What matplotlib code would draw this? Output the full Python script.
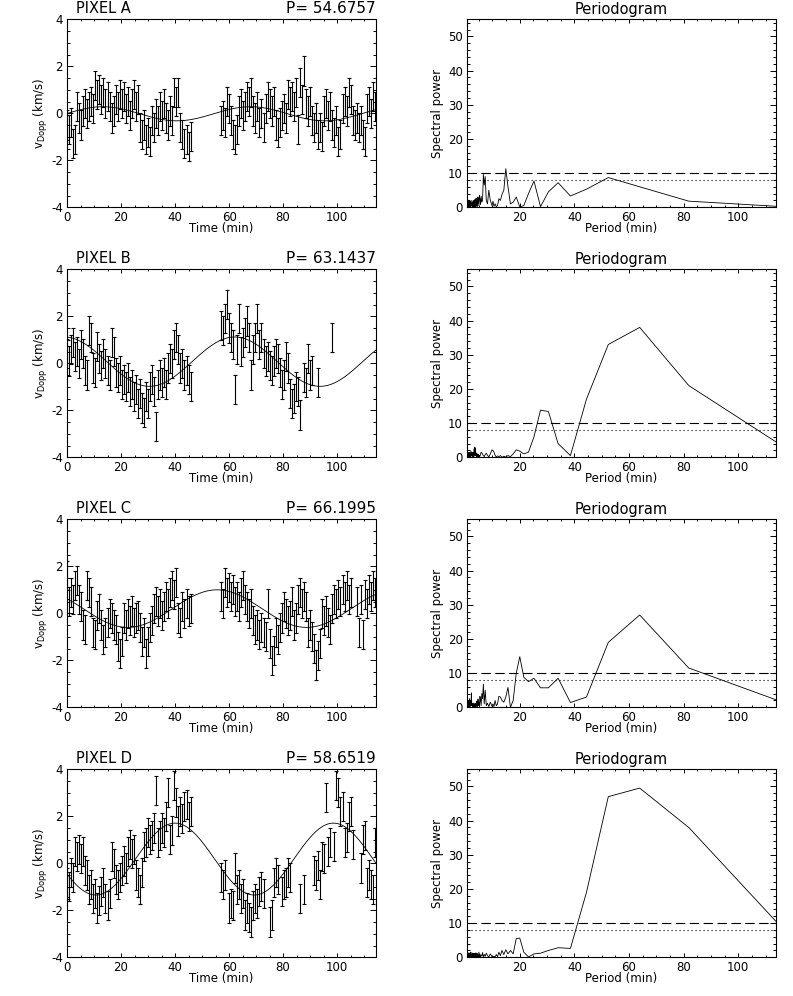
import numpy as np
import matplotlib
matplotlib.use("Agg")
import matplotlib.pyplot as plt
from matplotlib.ticker import MultipleLocator

# ---- time series (km/s), sampled every DT min; two segments per pixel ----
DT = 0.75
T2_START = 57.0
ERR = 0.62
nan = np.nan

a_seg1 = [-0.5, -0.7, -0.4, -1.3, -1.1, 0.3, -0.2, -0.5, 0.1, 0.4,
          0.0, 0.3, 0.5, 0.2, 1.2, 0.8, 1.0, 0.6, 0.9, 0.4,
          0.7, 0.3, -0.2, 0.1, 0.6, 0.3, 0.8, 0.4, 0.7, 0.2,
          0.5, -0.1, 0.4, 0.8, 0.3, 0.6, -0.6, -0.9, -0.5, -1.1,
          -0.8, -1.2, -0.3, -0.6, 0.0, -0.3, 0.3, -0.1, 0.4, -0.2,
          -0.5, 0.1, -0.3, 0.9, 0.5, 0.9, -0.6, -0.9, -1.3, -1.1,
          -1.4, -1.0]
a_seg2 = [-0.3, -0.1, -0.4, 0.5, 0.2, -0.3, -0.9, -1.1, -0.7, 0.1,
          0.4, -0.1, 0.3, 0.7, 0.5, 0.9, 0.1, -0.2, 0.3, -0.4,
          0.0, -0.6, 0.2, 0.7, 0.4, 0.1, 0.5, -0.5, -0.8, -0.4,
          -0.1, 0.2, -0.2, 0.8, 0.5, 0.7, 0.3, 0.9, -0.7, 1.3,
          0.6, 1.8, 0.4, 0.1, 0.5, -0.3, -0.6, -0.2, -0.9, -0.6,
          -1.0, 0.1, 0.4, -0.1, 0.3, -0.5, -0.8, -0.3, -1.2, -0.9,
          0.2, 0.5, 0.1, 0.9, 0.6, -0.3, -0.5, -0.2, -0.6, -0.3,
          -0.9, -1.2, 0.2, 0.5, 0.0, 0.7, 0.3]

b_seg1 = [0.4, 0.1, 0.6, 0.9, 0.3, 0.5, 0.0, 0.8, 0.4, -0.3,
          -0.5, 1.4, 1.1, -0.2, -0.4, 0.7, 0.2, -0.1, 0.4, 0.0,
          -0.3, -0.5, 0.9, 0.5, -0.4, -0.6, -0.3, -0.9, -0.7, -1.0,
          -0.6, -1.2, -0.9, -1.4, -1.1, -1.7, -1.3, -1.9, -2.1, -1.4,
          -1.7, -1.0, -0.7, -1.2, -2.7, -0.9, -0.5, -0.8, -0.4, -0.9,
          -0.2, 0.2, 0.0, 0.8, 1.1, 0.6, -0.2, 0.0, -0.5, -0.3,
          -0.7, -1.0]
b_seg2 = [1.6, 1.4, 1.9, 2.5, 1.5, 1.1, 0.8, -1.1, 0.6, 1.9,
          0.5, 0.9, 1.3, 1.8, 1.1, -0.5, 0.6, 1.1, 1.9, 0.8,
          1.1, 0.4, 0.1, 0.3, -0.1, -0.3, 0.1, 0.4, 0.2, -0.4,
          -0.9, -0.5, 0.3, -0.2, -1.3, -1.7, -1.5, -1.0, -1.2, -2.2,
          nan, -0.6, -0.8, 0.2, -0.5, -0.3, nan, nan, -0.8, nan,
          nan, nan, nan, nan, nan, 1.1]

c_seg1 = [1.6, 0.5, 0.9, 0.6, 1.2, 1.4, 0.6, 0.3, -0.5, -0.7,
          1.2, 0.9, 0.5, -0.8, -0.9, -0.1, 0.2, -0.5, -1.1, -0.8,
          -0.4, 0.0, -0.2, -0.5, -0.7, -1.4, -1.7, -1.2, -0.2, -0.5,
          0.0, -0.3, 0.1, -0.4, -0.2, -0.1, -0.6, -1.2, -0.8, -1.7,
          -1.2, -0.6, -0.3, 0.2, 0.5, 0.1, 0.4, -0.1, 0.3, 0.7,
          0.4, 0.9, 1.2, 0.8, 1.3, -0.2, -0.4, 0.3, 0.0, 0.4,
          0.1, 0.2]
c_seg2 = [0.7, 0.4, 1.3, 0.9, 1.1, 0.7, 1.0, 0.5, 0.7, 0.3,
          0.9, 1.2, 0.6, 0.3, 0.0, 0.4, -0.3, -0.7, -0.5, -0.9,
          -0.6, -0.8, -1.0, 0.4, -1.3, -2.0, -1.6, -0.8, -1.1, -0.6,
          -0.2, 0.3, 0.0, -0.3, -0.1, 0.5, -0.5, -0.2, 0.6, 0.9,
          0.4, 0.7, 0.3, -0.8, -0.5, -1.0, -1.5, -2.2, -1.8, -1.3,
          0.0, -0.3, 0.1, -0.4, -0.7, 0.2, 0.6, 0.4, 0.8, 0.5,
          1.0, 0.7, 1.2, 0.6, 0.9, nan, nan, 0.5, -0.8, 0.6,
          -0.9, 0.8, 0.4, 1.0, 0.7, 1.2, 0.9]

d_seg1 = [-0.8, -1.0, -0.4, -0.6, 0.5, 0.3, 0.6, 0.2, 0.5, -0.3,
          -0.5, -1.1, -0.9, -1.5, -1.3, -1.9, -1.6, -1.2, -0.8, -1.5,
          -1.8, -1.3, 0.3, 0.0, -0.7, -0.9, -0.6, -0.3, 0.1, -0.2,
          0.5, 0.8, 0.4, 0.6, -0.5, -0.8, -1.1, -0.4, 0.7, 0.9,
          1.3, 1.0, 1.2, 1.5, 3.1, 0.9, 1.2, 1.5, 1.3, 2.0,
          3.0, 1.0, 1.4, 3.3, 2.6, 1.8, 2.2, 1.9, 2.4, 2.5,
          2.0, 2.2]
d_seg2 = [-0.6, -0.9, -0.5, nan, -1.9, -1.7, -1.8, -0.2, -1.1, -0.9,
          -1.5, -1.3, -2.2, -1.9, -2.3, -2.5, -1.8, -1.5, -1.7, -1.2,
          -1.0, -1.3, nan, nan, -2.5, -2.2, -0.8, -0.4, -0.7, nan,
          -1.2, -0.9, -0.8, -0.4, -0.6, nan, nan, nan, nan, -1.5,
          nan, -1.1, nan, nan, nan, nan, -0.3, -0.5, -0.1, -0.9,
          0.3, 0.2, 2.8, 0.5, 0.9, nan, 0.7, 3.3, 3.0, 2.2,
          2.4, 0.9, 1.1, 2.0, 2.2, 0.8, nan, nan, nan, -0.2,
          1.0, 1.2, -0.8, -0.5, -0.9, -1.1, 0.9]

# ---- sine fits: period, amplitude, time of maximum, offset ----
pixels = ["PIXEL A", "PIXEL B", "PIXEL C", "PIXEL D"]
fit_period = [54.6757, 63.1437, 66.1995, 58.6519]
fit_amp = [0.30, 1.05, 0.80, 1.53]
fit_tmax = [13.3, 62.1, 55.6, 40.0]
fit_off = [-0.02, 0.07, 0.20, 0.18]

# ---- periodograms on a uniform frequency grid f = F0 + k*DF ----
F0 = 1 / 113.8
DF = 0.00343
# k = 0..26, then every 2nd k from 27, then every 8th k from 100
a_pow = [0.3, 1.8, 6.0, 8.7, 5.3, 3.3, 7.2, 4.5, 0.2, 7.7,
         4.0, 0.5, 0.1, 3.0, 1.5, 1.0, 6.0, 11.3, 5.0, 3.8,
         2.0, 2.5, 0.5, 0.2, 1.0, 0.3, 1.8]
a_pow_lo = [0.5, 2.0, 5.0, 1.0, 2.0, 9.0, 6.5, 9.6, 2.0, 1.5,
            3.2, 0.8, 2.5, 3.5, 0.5, 2.8, 1.2, 3.0, 0.3, 2.2,
            1.0, 2.7, 0.2, 1.8, 0.6, 2.4, 0.1, 1.5, 0.4, 2.0,
            0.2, 1.2, 0.5, 1.9, 0.1, 1.4, 0.3]
a_pow_vlo = [1.6, 0.2, 2.0, 0.4, 1.2, 0.1, 1.8, 0.5, 1.0, 0.2,
             1.7, 0.3, 1.3, 0.1, 2.1, 0.4, 0.9, 0.2, 1.5, 0.6,
             1.1, 0.1, 1.9, 0.3, 0.8, 0.2, 1.4, 0.5, 1.2, 0.1,
             1.6, 0.3, 0.7, 0.2, 1.3, 0.4, 1.0, 0.1, 1.5, 0.3]

b_pow = [4.5, 21.0, 38.0, 33.0, 17.0, 0.5, 4.0, 13.4, 13.8, 6.0,
         1.5, 1.0, 1.8, 2.2, 1.0, 0.2, 0.5, 0.1, 0.3, 0.0,
         0.5, 0.2, 0.4, 0.1, 0.6, 1.5, 2.0]
b_pow_lo = [2.2, 1.0, 0.1, 0.6, 1.2, 0.8, 0.2, 0.5, 0.9, 1.3,
            1.5, 0.9, 0.3, 0.6, 0.1, 0.8, 0.3, 1.0, 0.2, 0.7,
            0.1, 1.2, 0.4, 1.8, 0.6, 2.8, 0.9, 3.0, 1.2, 2.5,
            0.3, 1.5, 0.4, 1.1, 0.2, 1.3, 0.5]
b_pow_vlo = [1.4, 0.2, 1.0, 0.6, 1.7, 0.1, 0.9, 0.4, 1.2, 0.2,
             0.8, 0.5, 1.5, 0.1, 1.0, 0.3, 0.7, 0.2, 1.3, 0.4,
             0.9, 0.1, 1.1, 0.3, 0.6, 0.2, 1.2, 0.4, 0.8, 0.1,
             1.0, 0.3, 0.5, 0.2, 0.9, 0.1, 0.7, 0.3, 0.6, 0.2]

c_pow = [2.2, 11.5, 27.0, 19.0, 3.0, 1.4, 8.5, 5.7, 5.7, 8.5,
         7.5, 8.8, 14.8, 10.0, 2.0, 0.0, 5.8, 3.0, 1.5, 2.0,
         3.0, 3.2, 1.0, 0.5, 2.0, 0.2, 1.0]
c_pow_lo = [0.3, 1.5, 0.2, 1.2, 0.5, 5.0, 1.0, 6.8, 2.5, 4.0,
            0.5, 2.0, 3.2, 0.2, 1.5, 0.6, 2.4, 0.1, 1.0, 1.8,
            0.3, 1.2, 0.5, 0.9, 0.2, 1.1, 0.4, 0.7, 0.1, 1.0,
            0.3, 0.8, 0.2, 1.2, 0.4, 0.9, 0.1]
c_pow_vlo = [1.1, 0.3, 0.8, 4.2, 0.5, 2.0, 0.3, 1.4, 1.0, 2.5,
             0.2, 1.3, 0.6, 0.9, 0.1, 1.7, 0.4, 0.8, 0.2, 1.2,
             0.3, 0.6, 0.1, 1.0, 0.4, 0.7, 0.2, 1.1, 0.3, 0.5,
             0.1, 0.8, 0.2, 0.6, 0.3, 0.9, 0.1, 0.5, 0.2, 0.4]

d_pow = [10.5, 38.0, 49.5, 47.0, 19.0, 2.6, 2.8, 2.0, 1.2, 1.0,
         0.1, 1.5, 5.6, 5.5, 1.0, 2.0, 1.0, 2.2, 0.8, 2.0,
         0.5, 1.5, 0.2, 0.8, 0.0, 0.3, 0.1]
d_pow_lo = [0.2, 1.0, 0.1, 0.5, 1.2, 0.3, 0.8, 0.1, 1.4, 0.4,
            0.6, 0.1, 1.0, 0.3, 1.5, 0.2, 0.7, 0.1, 1.1, 0.4,
            0.9, 0.1, 1.3, 0.3, 0.6, 0.2, 1.0, 0.1, 0.8, 0.4,
            1.2, 0.2, 0.5, 0.1, 0.9, 0.3, 0.7]
d_pow_vlo = [1.1, 0.2, 1.4, 0.3, 0.8, 0.1, 1.5, 0.4, 0.9, 0.2,
             1.2, 0.1, 0.7, 0.3, 1.3, 0.2, 0.6, 0.1, 1.0, 0.4,
             0.8, 0.2, 1.1, 0.3, 0.5, 0.1, 0.9, 0.2, 1.2, 0.4,
             0.6, 0.1, 1.0, 0.3, 0.7, 0.2, 0.9, 0.1, 0.5, 0.3]

SIG_HI = 9.9
SIG_LO = 8.1

series = [(a_seg1, a_seg2), (b_seg1, b_seg2), (c_seg1, c_seg2), (d_seg1, d_seg2)]
powers = [(a_pow, a_pow_lo, a_pow_vlo), (b_pow, b_pow_lo, b_pow_vlo),
          (c_pow, c_pow_lo, c_pow_vlo), (d_pow, d_pow_lo, d_pow_vlo)]

plt.rcParams["font.family"] = ["DejaVu Sans"]
plt.rcParams["font.size"] = 8.5
plt.rcParams["axes.unicode_minus"] = False
plt.rcParams["axes.linewidth"] = 0.8
plt.rcParams["xtick.direction"] = "in"
plt.rcParams["ytick.direction"] = "in"
plt.rcParams["xtick.top"] = True
plt.rcParams["ytick.right"] = True

W, H = 793, 996
fig = plt.figure(figsize=(W / 100, H / 100), dpi=100)


def style(ax):
    ax.tick_params(axis="x", which="major", length=2.8, width=0.7, pad=2.5)
    ax.tick_params(axis="x", which="minor", length=1.4, width=0.7)
    ax.tick_params(axis="y", which="major", length=4.5, width=0.7, pad=3)
    ax.tick_params(axis="y", which="minor", length=2.3, width=0.7)


for i in range(4):
    bot = 1 - (207.3 + 250 * i) / H
    axl = fig.add_axes([67 / W, bot, 309 / W, 188 / H])
    axr = fig.add_axes([467 / W, bot, 309 / W, 188 / H])

    s1, s2 = series[i]
    t = np.r_[DT * np.arange(len(s1)), T2_START + DT * np.arange(len(s2))]
    v = np.r_[s1, s2]
    ok = ~np.isnan(v)
    axl.errorbar(t[ok], v[ok], yerr=ERR, fmt="none", ecolor="k",
                 elinewidth=0.8, capsize=1.6, capthick=0.8)
    tf = np.linspace(0, 114.4, 500)
    yf = fit_off[i] + fit_amp[i] * np.cos(2 * np.pi * (tf - fit_tmax[i]) / fit_period[i])
    axl.plot(tf, yf, color="k", lw=0.6)
    axl.set_xlim(0, 114.4)
    axl.set_ylim(-4, 4)
    axl.xaxis.set_major_locator(MultipleLocator(20))
    axl.xaxis.set_minor_locator(MultipleLocator(5))
    axl.yaxis.set_major_locator(MultipleLocator(2))
    axl.yaxis.set_minor_locator(MultipleLocator(0.5))
    style(axl)
    axl.set_xlabel("Time (min)", labelpad=-1)
    axl.set_ylabel(r"v$_{\rm Dopp}$ (km/s)", labelpad=0.5)
    axl.text(0.03, 1.02, pixels[i], transform=axl.transAxes, ha="left",
             va="bottom", fontsize=10.5)
    axl.text(1.0, 1.02, f"P= {fit_period[i]:.4f}", transform=axl.transAxes,
             ha="right", va="bottom", fontsize=11)

    p_hi, p_lo, p_vlo = powers[i]
    k = np.r_[np.arange(len(p_hi)), 27 + 2 * np.arange(len(p_lo)),
              100 + 8 * np.arange(len(p_vlo))]
    per = 1 / (F0 + DF * k)
    pw = np.r_[p_hi, p_lo, p_vlo]
    axr.plot(per, pw, color="k", lw=0.6)
    axr.axhline(SIG_HI, color="k", lw=0.8, ls=(0, (8.5, 4)))
    axr.axhline(SIG_LO, color="k", lw=0.8, ls=(0, (1, 2.6)))
    axr.set_xlim(per.min(), per.max())
    axr.set_ylim(0, 55)
    axr.xaxis.set_major_locator(MultipleLocator(20))
    axr.xaxis.set_minor_locator(MultipleLocator(5))
    axr.yaxis.set_major_locator(MultipleLocator(10))
    axr.yaxis.set_minor_locator(MultipleLocator(2))
    style(axr)
    axr.set_xlabel("Period (min)", labelpad=-1)
    axr.set_ylabel("Spectral power", labelpad=2.5)
    axr.set_title("Periodogram", fontsize=10.5, pad=4)

fig.savefig("out.png", dpi=100)
